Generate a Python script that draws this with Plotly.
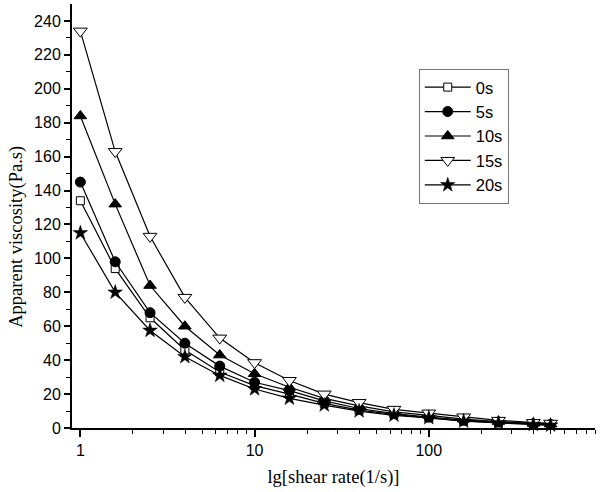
import plotly.graph_objects as go

shear_rate = [1, 1.585, 2.512, 3.981, 6.310, 10, 15.85, 25.12, 39.81, 63.10, 100, 158.5, 251.2, 398.1, 500]

series_names = ["0s", "5s", "10s", "15s", "20s"]
visc_0s = [134, 94, 65, 46, 33, 25, 20, 14.5, 10.5, 8, 6, 4.2, 3.2, 2.2, 1.8]
visc_5s = [145, 98, 68, 50, 36.5, 27, 22, 16, 11.5, 8.5, 6.5, 4.6, 3.5, 2.4, 2.0]
visc_10s = [184, 132, 84, 60, 43, 32, 24, 17.5, 13, 9.5, 7.5, 5.2, 3.8, 2.7, 2.3]
visc_15s = [234, 163, 113, 77, 53, 38.5, 28, 20, 15, 11, 8.8, 6.5, 4.5, 3.2, 2.8]
visc_20s = [115, 80, 57.5, 42, 31, 23, 17.5, 13.5, 10, 7.5, 6, 4, 3, 2.0, 1.6]

series_values = [visc_0s, visc_5s, visc_10s, visc_15s, visc_20s]
markers = [
    dict(symbol="square", size=8, color="white", line=dict(color="black", width=1)),
    dict(symbol="circle", size=10, color="black", line=dict(color="black", width=1)),
    dict(symbol="triangle-up", size=11, color="black", line=dict(color="black", width=1)),
    dict(symbol="triangle-down", size=12, color="white", line=dict(color="black", width=1)),
    dict(symbol="star", size=11, color="black", line=dict(color="black", width=0.5)),
]

fig = go.Figure()
for name, vals, mk in zip(series_names, series_values, markers):
    fig.add_trace(go.Scatter(
        x=shear_rate, y=vals, name=name, mode="lines+markers",
        line=dict(color="black", width=1.2), marker=mk, cliponaxis=False,
    ))

minor_x = [m * d for d in (1, 10, 100) for m in range(2, 10)]

fig.update_layout(
    width=600, height=492,
    margin=dict(l=72, r=5, t=4, b=64),
    paper_bgcolor="white", plot_bgcolor="white",
    showlegend=True,
    legend=dict(
        x=0.663, y=0.847, xanchor="left", yanchor="top",
        bordercolor="#777777", borderwidth=1,
        font=dict(family="Liberation Sans, Arial", size=16.5, color="black"),
        itemwidth=46, tracegroupgap=0,
    ),
    xaxis=dict(
        type="log", range=[-0.048, 2.954],
        tickvals=[1, 10, 100], ticktext=["1", "10", "100"],
        ticks="outside", ticklen=7, tickwidth=1.5, tickcolor="black",
        showline=True, linecolor="black", linewidth=2,
        showgrid=False, zeroline=False,
        minor=dict(tickmode="array", tickvals=minor_x, ticks="outside", ticklen=4,
                   tickwidth=1.2, tickcolor="black", showgrid=False),
        tickfont=dict(family="Liberation Sans, Arial", size=16, color="black"),
        title=dict(text="lg[shear rate(1/s)]", standoff=12,
                   font=dict(family="Liberation Serif, Times New Roman", size=18.5, color="black")),
    ),
    yaxis=dict(
        range=[0, 250], tickvals=list(range(0, 241, 20)),
        ticks="outside", ticklen=6, tickwidth=1.5, tickcolor="black",
        showline=True, linecolor="black", linewidth=2,
        showgrid=False, zeroline=False,
        minor=dict(tickmode="array", tickvals=list(range(10, 250, 20)), ticks="outside",
                   ticklen=4, tickwidth=1.2, tickcolor="black", showgrid=False),
        tickfont=dict(family="Liberation Sans, Arial", size=16, color="black"),
    ),
    annotations=[dict(
        text="Apparent viscosity(Pa.s)", textangle=-90, showarrow=False,
        xref="paper", yref="paper", x=-0.106, y=0.45, xanchor="center", yanchor="middle",
        font=dict(family="Liberation Serif, Times New Roman", size=18.5, color="black"),
    )],
)

fig.write_html("out.html", config={"displayModeBar": False},
               post_script="document.body.style.margin='0';")
